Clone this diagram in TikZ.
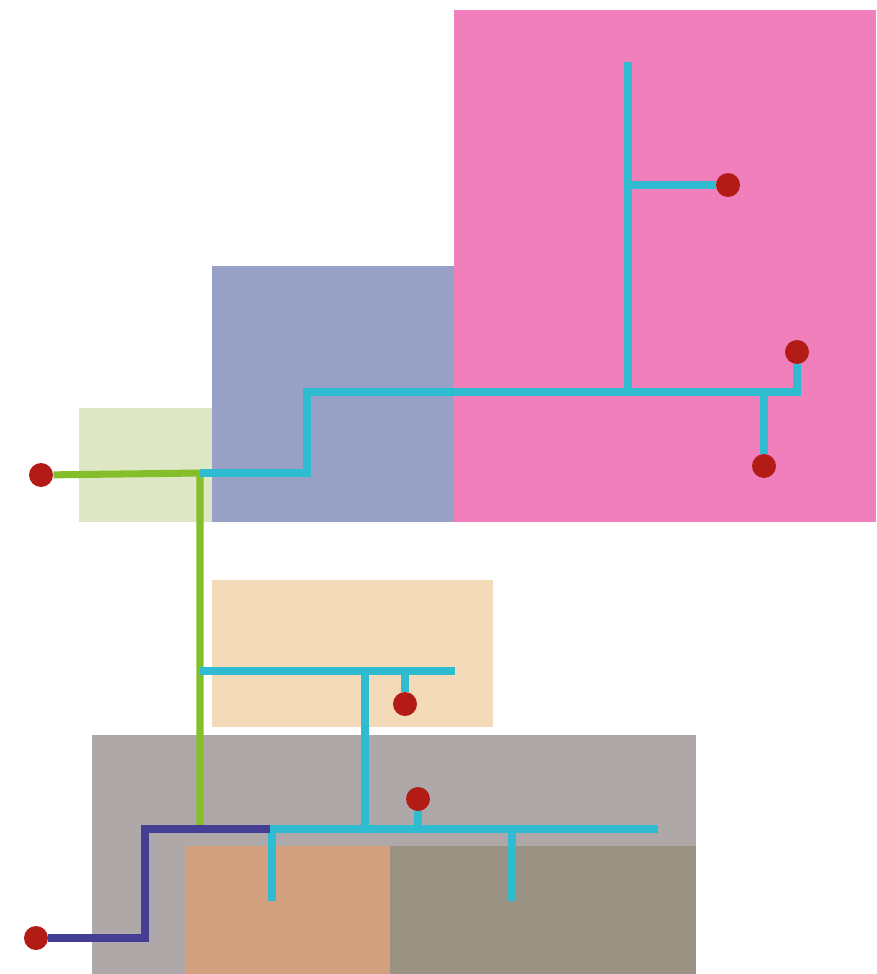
\documentclass[tikz,border=0pt]{standalone}
\usepackage{tikz}
\usetikzlibrary{calc}

\definecolor{pinkzone}{HTML}{F07FBC}
\definecolor{bluezone}{HTML}{98A0C6}
\definecolor{greenzone}{HTML}{DDE7C3}
\definecolor{peachzone}{HTML}{F3DAB8}
\definecolor{grayzone}{HTML}{AFA8A9}
\definecolor{clayzone}{HTML}{D3A080}
\definecolor{taupezone}{HTML}{9A9282}
\definecolor{cyanline}{HTML}{30BCD0}
\definecolor{greenline}{HTML}{84BE2A}
\definecolor{navyline}{HTML}{443F94}
\definecolor{reddot}{HTML}{B31B17}

\tikzset{
  pipe/.style = {line width=4pt, line join=miter},
  dot/.style = {circle, fill=reddot, inner sep=0pt, minimum size=0.48cm}
}

\begin{document}
\begin{tikzpicture}[x = 0.02cm, y = -0.02cm]

\useasboundingbox (0,0) rectangle (876,974);

% zones
\fill[pinkzone] (454,10) rectangle (876,522);
\fill[bluezone] (212,266) rectangle (454,522);
\fill[greenzone] (79,408) rectangle (212,522);
\fill[peachzone] (212,580) rectangle (493,727);
\fill[grayzone] (92,735) rectangle (696,974);
\fill[clayzone] (185,846) rectangle (390,974);
\fill[taupezone] (390,846) rectangle (696,974);

% junctions
\coordinate (g1) at (200,473);
\coordinate (g2) at (200,826);
\coordinate (s1) at (307,473);
\coordinate (s2) at (307,392);
\coordinate (s3) at (797,392);
\coordinate (t1) at (628,62);
\coordinate (t2) at (628,392);
\coordinate (t3) at (628,185);
\coordinate (r1) at (764,392);

\coordinate (p1) at (200,671);
\coordinate (p2) at (455,671);
\coordinate (p3) at (365,671);
\coordinate (p4) at (365,829);
\coordinate (p5) at (405,671);

\coordinate (b1) at (270,829);
\coordinate (b2) at (658,829);
\coordinate (b3) at (272,829);
\coordinate (b4) at (272,901);
\coordinate (b5) at (512,829);
\coordinate (b6) at (512,901);
\coordinate (b7) at (418,829);

\coordinate (k1) at (145,938);
\coordinate (k2) at (145,829);

% outlets
\node[dot] (dL) at (41,475) {};
\node[dot] (dT) at (728,185) {};
\node[dot] (dA) at (797,352) {};
\node[dot] (dB) at (764,466) {};
\node[dot] (dC) at (405,704) {};
\node[dot] (dD) at (418,799) {};
\node[dot] (dE) at (36,938) {};

% pipes
\draw[pipe, greenline] (dL) -- (g1) -- (g2);
\draw[pipe, cyanline] (g1) -- (s1) -- (s2) -- (s3) -- (dA);

\foreach \a/\b in {t1/t2, t3/dT, r1/dB, p1/p2, p3/p4, p5/dC, b1/b2, b3/b4, b5/b6, b7/dD}
{\draw[pipe, cyanline] (\a) -- (\b);}

\draw[pipe, navyline] (dE) -- (k1) -- (k2) -- (b1);

\end{tikzpicture}
\end{document}
